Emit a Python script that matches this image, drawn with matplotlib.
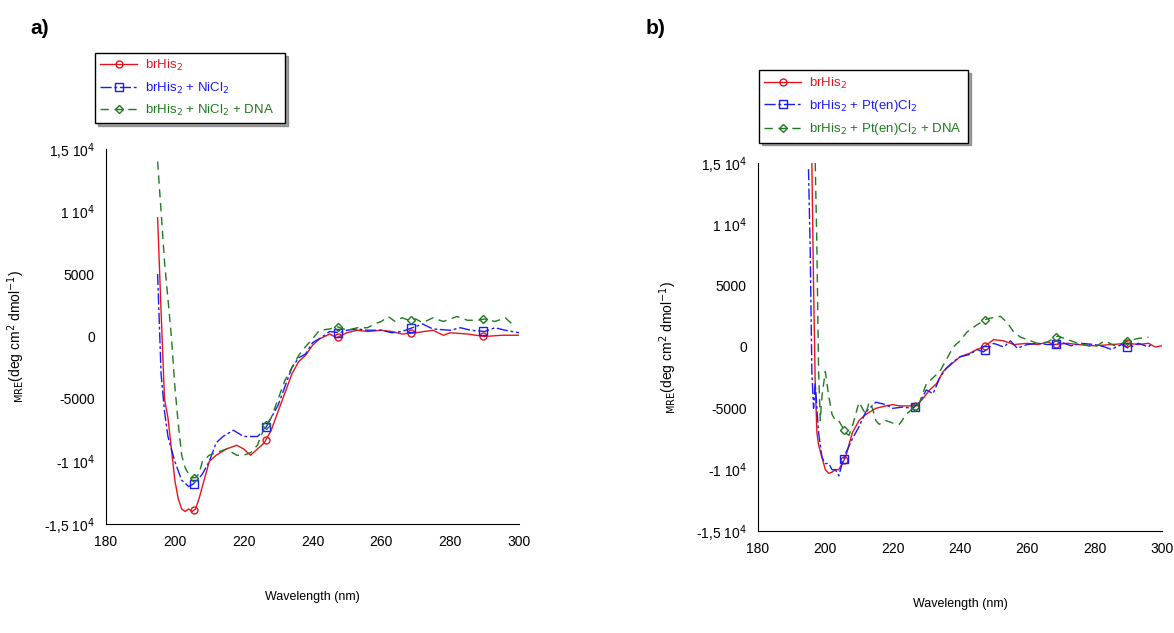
import matplotlib
matplotlib.use("Agg")
import matplotlib.pyplot as plt
import numpy as np

plt.rcParams["font.family"] = ["Liberation Sans", "DejaVu Sans"]

# ── Panel a data ──────────────────────────────────────────────────────────────
a_red_x = [195, 196, 197, 198, 199, 200, 201, 202, 203, 204, 205, 206, 207, 208, 209, 210, 212, 215, 218, 220,
           222, 224, 226, 228, 230, 232, 234, 236, 238, 240, 242, 245, 247, 250, 253, 256, 260, 263, 266, 270,
           275, 278, 280, 285, 290, 295, 300]
a_red_y = [9500, 2000, -5000, -6500, -9000, -11500, -13000, -13800, -14000, -13800, -14000, -13800, -13000,
           -12000, -11000, -10000, -9500, -9000, -8700, -9000, -9500, -9000, -8500, -7500, -6000, -4500, -3000,
           -2000, -1500, -700, -200, 200, -100, 300, 500, 400, 500, 400, 200, 300, 500, 100, 300, 200, 0, 100, 100]
a_blue_x = [195, 196, 197, 198, 200, 202, 204, 206, 208, 210, 212, 214, 217, 220, 222, 224, 226, 228, 230, 232,
            234, 236, 238, 240, 243, 245, 248, 250, 253, 256, 260, 263, 266, 268, 272, 275, 280, 283, 286, 290,
            293, 296, 300]
a_blue_y = [5000, -3000, -6000, -8000, -10000, -11500, -12000, -11700, -11000, -10000, -8500, -8000, -7500,
            -8000, -8000, -8000, -7500, -6500, -5500, -4000, -2500, -1700, -1400, -500, 0, 400, 300, 500, 600,
            500, 500, 300, 400, 600, 1000, 600, 500, 700, 500, 400, 700, 500, 300]
a_green_x = [195, 196, 197, 198, 199, 200, 201, 202, 203, 204, 205, 206, 207, 208, 210, 212, 215, 218, 220, 222,
             224, 226, 228, 230, 232, 234, 236, 238, 240, 242, 245, 247, 250, 253, 256, 258, 260, 262, 264, 266,
             268, 270, 272, 275, 278, 280, 282, 285, 288, 290, 293, 296, 298]
a_green_y = [14000, 10000, 6000, 3000, 0, -4000, -7000, -9500, -10500, -11000, -11300, -11300, -11000, -10000,
             -9500, -9300, -9000, -9500, -9500, -9300, -8700, -7300, -6500, -5000, -3500, -2500, -1500, -800,
             -200, 500, 600, 800, 500, 700, 700, 1000, 1200, 1600, 1200, 1500, 1300, 1400, 1100, 1500, 1200,
             1400, 1600, 1300, 1300, 1400, 1200, 1500, 1000]

# ── Panel b data ──────────────────────────────────────────────────────────────
b_red_x = [196, 196.5, 197, 197.5, 198, 199, 200, 201, 202, 203, 204, 205, 206, 207, 208, 210, 212, 215, 218,
           220, 222, 225, 227, 229, 231, 233, 235, 237, 240, 243, 245, 247, 250, 253, 256, 260, 263, 266, 268,
           272, 275, 280, 285, 290, 293, 296, 298, 300]
b_red_y = [15000, 5000, -3000, -7000, -8000, -9000, -10000, -10300, -10200, -10000, -10000, -9500, -9000,
           -8000, -7000, -6000, -5500, -5000, -4800, -4700, -4800, -4800, -4800, -4200, -3500, -3000, -2000,
           -1500, -800, -500, -200, 0, 600, 500, 200, 300, 200, 400, 200, 300, 200, 100, 200, 300, 200, 300,
           0, 100]
b_blue_x = [195, 195.5, 196, 196.5, 197, 198, 199, 200, 201, 202, 203, 204, 205, 206, 208, 210, 212, 215, 218,
            220, 223, 226, 228, 230, 232, 234, 236, 238, 240, 243, 245, 247, 250, 253, 255, 257, 260, 263, 266,
            268, 270, 273, 276, 280, 283, 285, 288, 290, 293, 296, 297]
b_blue_y = [14500, 8000, -2000, -5000, -3000, -7000, -9000, -9500, -9500, -10000, -10000, -10500, -9500, -8700,
            -7500, -6500, -5300, -4500, -4700, -5000, -4900, -5000, -4500, -3500, -3800, -2500, -1700, -1200,
            -800, -600, -200, -400, 300, 0, 500, -100, 200, 300, 200, 200, 400, 100, 300, 200, 0, -200, 200,
            -100, 300, 0, 300]
b_green_x = [197, 197.5, 198, 198.5, 199, 200, 201, 202, 203, 204, 205, 206, 207, 208, 209, 210, 211, 212, 213,
             214, 215, 216, 218, 220, 222, 224, 226, 228, 230, 232, 234, 236, 238, 240, 242, 245, 248, 250, 252,
             254, 256, 258, 260, 263, 266, 269, 272, 275, 278, 280, 283, 286, 290, 293, 296]
b_green_y = [15000, 8000, -2000, -6000, -4000, -2000, -4000, -5500, -6000, -6000, -6500, -7000, -7200, -6500,
             -5500, -4500, -5000, -5500, -4500, -5000, -6000, -6300, -6000, -6200, -6300, -5500, -5000, -4500,
             -3000, -2500, -2000, -1000, 0, 500, 1200, 1800, 2300, 2400, 2500, 2000, 1200, 800, 600, 300, 400,
             900, 600, 300, 100, 0, 500, 100, 500, 700, 800]

marker_x = [205.5, 226.5, 247.5, 268.5, 289.5]

a_labels = ["brHis$_2$", "brHis$_2$ + NiCl$_2$", "brHis$_2$ + NiCl$_2$ + DNA"]
b_labels = ["brHis$_2$", "brHis$_2$ + Pt(en)Cl$_2$", "brHis$_2$ + Pt(en)Cl$_2$ + DNA"]

yticks = [-15000, -10000, -5000, 0, 5000, 10000, 15000]
ytick_labels = ["-1,5 10$^4$", "-1 10$^4$", "-5000", "0", "5000", "1 10$^4$", "1,5 10$^4$"]

colors = ["#e8141c", "#1a1aff", "#1f7a1f"]
styles = ["-", (0, (8, 2, 2, 2)), (0, (6, 4))]
markers = ["o", "s", "D"]
msizes = [5, 6, 4]

W, H = 1174, 633
fig = plt.figure(figsize=(W / 100, H / 100), dpi=100)


def panel(rect, series, labels, leg_rect, tag, tag_xy):
    l, r, t, b = rect
    ax = fig.add_axes([l / W, 1 - b / H, (r - l) / W, (b - t) / H])
    handles = []
    for (x, y), lab, c, ls, m, ms in zip(series, labels, colors, styles, markers, msizes):
        ax.plot(x, y, color=c, lw=1, ls=ls)
        mx = [v for v in marker_x if x[0] <= v <= x[-1]]
        ax.plot(mx, np.interp(mx, x, y), ls="none", marker=m, mfc="none", mec=c, ms=ms, mew=1)
        h, = ax.plot([], [], color=c, lw=1, ls=ls, marker=m, mfc="none", mec=c, ms=ms)
        handles.append(h)
    ax.set_xlim(180, 300)
    ax.set_ylim(-15000, 15000)
    ax.set_xticks(range(180, 301, 20))
    ax.set_yticks(yticks)
    ax.set_yticklabels(ytick_labels)
    ax.tick_params(length=0, labelsize=10, pad=8)
    for s in ["top", "right"]:
        ax.spines[s].set_visible(False)
    ax.set_xlabel("Wavelength (nm)", fontsize=9, labelpad=30)
    ax.set_ylabel("$_{\\rm MRE}$(deg cm$^2$ dmol$^{-1}$)", fontsize=10, labelpad=12)
    lx0, lx1, ly0, ly1 = leg_rect
    lax = fig.add_axes([lx0 / W, 1 - ly1 / H, (lx1 - lx0) / W, (ly1 - ly0) / H])
    lax.axis("off")
    leg = lax.legend(handles, labels, loc="center", frameon=True, fancybox=False, shadow=True,
                     edgecolor="black", fontsize=9.5, handlelength=2.8, handletextpad=0.6,
                     labelspacing=0.55, borderaxespad=0, mode="expand", bbox_to_anchor=(0, 0, 1, 1))
    for txt, c in zip(leg.get_texts(), colors):
        txt.set_color(c)
    fig.text(tag_xy[0] / W, 1 - tag_xy[1] / H, tag, fontsize=15, fontweight="bold", va="center")


panel((106, 519, 149, 524),
      [(a_red_x, a_red_y), (a_blue_x, a_blue_y), (a_green_x, a_green_y)],
      a_labels, (95, 285, 49, 127), "a)", (30, 28))
panel((758, 1162, 163, 531),
      [(b_red_x, b_red_y), (b_blue_x, b_blue_y), (b_green_x, b_green_y)],
      b_labels, (759, 968, 68, 145), "b)", (646, 28))

fig.savefig("out.png", dpi=100)
